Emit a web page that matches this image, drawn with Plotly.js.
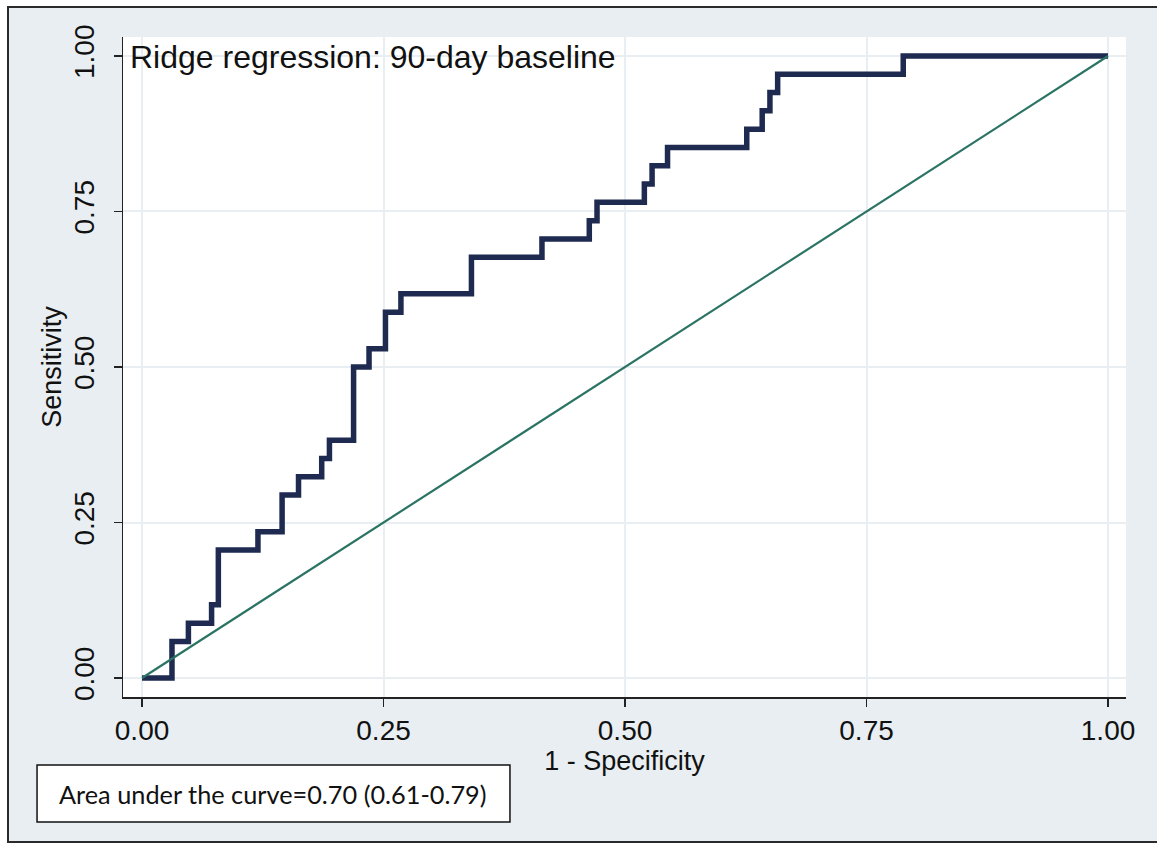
<!DOCTYPE html>
<html>
<head>
<meta charset="utf-8">
<script src="https://cdn.plot.ly/plotly-3.0.1.min.js"></script>
<style>
  html, body { margin: 0; padding: 0; background: #ffffff; overflow: hidden; }
  #plot { position: absolute; left: 7px; top: 6px; width: 1160px; height: 833px; border: 2px solid #2a2a2a; }
</style>
</head>
<body>
<div id="plot"></div>
<script>
// ROC curve corner points (1 - specificity, sensitivity)
const oneMinusSpec = [0, 0.031, 0.048, 0.072, 0.079, 0.120, 0.145, 0.162, 0.186, 0.194, 0.219, 0.235, 0.252, 0.268, 0.341, 0.414, 0.463, 0.471, 0.520, 0.528, 0.544, 0.626, 0.642, 0.650, 0.658, 0.788, 1.0];
const sensitivity  = [0, 0.0588, 0.0882, 0.1176, 0.2059, 0.2353, 0.2941, 0.3235, 0.3529, 0.3824, 0.5, 0.5294, 0.5882, 0.6176, 0.6765, 0.7059, 0.7353, 0.7647, 0.7941, 0.8235, 0.8529, 0.8824, 0.9118, 0.9412, 0.9706, 1.0, 1.0];
// Reference (chance) line
const refX = [0, 1];
const refY = [0, 1];
const tickVals = [0, 0.25, 0.5, 0.75, 1];
const tickText = ["0.00", "0.25", "0.50", "0.75", "1.00"];
const panelTitle = "Ridge regression: 90-day baseline";
const aucText = "Area under the curve=0.70 (0.61-0.79)";
const xTitle = "1 - Specificity";
const yTitle = "Sensitivity";

const bg = "#e8eef1";
const font = "Liberation Sans, Arial, Helvetica, sans-serif";

const traces = [
  { x: oneMinusSpec, y: sensitivity, type: "scatter", mode: "lines",
    line: { shape: "hv", color: "#1e2a50", width: 5.5 }, hoverinfo: "skip" },
  { x: refX, y: refY, type: "scatter", mode: "lines",
    line: { color: "#2b7464", width: 2.2 }, hoverinfo: "skip" }
];

const axisCommon = {
  tickvals: tickVals, ticktext: tickText,
  showgrid: true, gridcolor: bg, gridwidth: 2,
  zeroline: false, showline: true, linecolor: "#222", linewidth: 1.5,
  ticks: "outside", ticklen: 8, tickwidth: 1.5, tickcolor: "#222",
  tickfont: { family: font, size: 28, color: "#111" },
  mirror: false
};

const layout = {
  width: 1160, height: 833,
  margin: { l: 114, r: 43, t: 29, b: 144 },
  paper_bgcolor: bg, plot_bgcolor: "#ffffff",
  showlegend: false,
  xaxis: Object.assign({}, axisCommon, {
    range: [-0.0197, 1.0186],
    title: { text: xTitle, font: { family: font, size: 27, color: "#111" }, standoff: 5 }
  }),
  yaxis: Object.assign({}, axisCommon, {
    range: [-0.0305, 1.0305], tickangle: -90, ticklabelstandoff: 8,
    title: { text: yTitle, font: { family: font, size: 27, color: "#111" }, standoff: 0 }
  }),
  shapes: [
    { type: "rect", xref: "paper", yref: "paper",
      x0: -0.0857, x1: 0.3858, y0: -0.1894, y1: -0.1030,
      fillcolor: "#ffffff", line: { color: "#111", width: 1.5 }, layer: "above" }
  ],
  annotations: [
    { text: panelTitle, xref: "paper", yref: "paper", x: 0.005, y: 0.9697,
      xanchor: "left", yanchor: "middle", showarrow: false,
      font: { family: font, size: 32, color: "#111" } },
    { text: aucText, xref: "paper", yref: "paper", x: 0.150, y: -0.147,
      xanchor: "center", yanchor: "middle", showarrow: false,
      font: { family: "Lato, Carlito, Calibri, sans-serif", size: 25.3, color: "#111" } }
  ]
};

Plotly.newPlot("plot", traces, layout, { staticPlot: true, displayModeBar: false });
</script>
</body>
</html>
